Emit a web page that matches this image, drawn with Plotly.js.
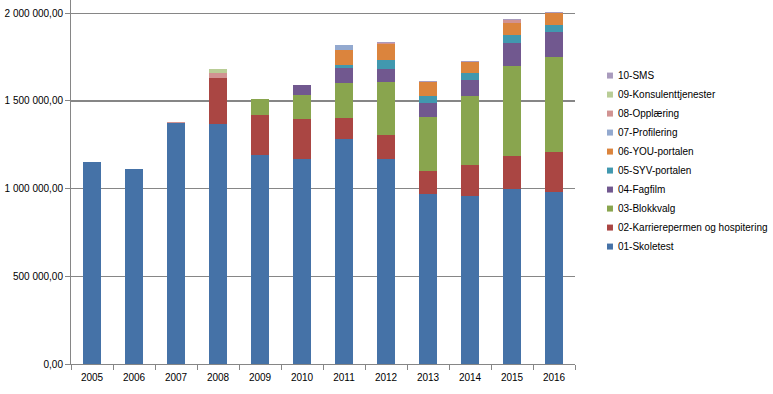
<!DOCTYPE html>
<html>
<head>
<meta charset="utf-8">
<script src="https://cdn.plot.ly/plotly-3.0.1.min.js"></script>
<style>html,body{margin:0;padding:0;background:#fff;}#chart{width:773px;height:394px;}</style>
</head>
<body>
<div id="chart"></div>
<script>
const years = ["2005","2006","2007","2008","2009","2010","2011","2012","2013","2014","2015","2016"];
const seriesNames = ["01-Skoletest","02-Karrierepermen og hospitering","03-Blokkvalg","04-Fagfilm","05-SYV-portalen","06-YOU-portalen","07-Profilering","08-Opplæring","09-Konsulenttjenester","10-SMS"];
const seriesColors = ["#4572A7","#AA4643","#89A54E","#71588F","#4198AF","#DB843D","#93A9CF","#D19392","#B9CD96","#A99BBD"];
const s01 = [1150000,1110000,1375000,1367000,1190000,1172000,1281000,1172000,967000,956000,996000,979000];
const s02 = [0,0,0,263000,229000,223000,120000,132000,132000,177000,188000,228000];
const s03 = [0,0,0,0,91000,138000,201000,303000,308000,394000,515000,543000];
const s04 = [0,0,0,0,0,57000,85000,75000,80000,92000,131000,143000];
const s05 = [0,0,0,0,0,0,17000,51000,40000,40000,46000,40000];
const s06 = [0,0,0,0,0,0,88000,92000,83000,63000,68000,69000];
const s07 = [0,0,0,0,0,0,27000,0,0,0,0,0];
const s08 = [0,0,4000,27000,0,0,0,4000,0,0,17000,0];
const s09 = [0,0,0,25000,0,0,0,0,0,0,0,0];
const s10 = [0,0,0,0,0,0,0,6000,4000,5000,6000,6000];
const allSeries = [s01,s02,s03,s04,s05,s06,s07,s08,s09,s10];
const yTicks = [0,500000,1000000,1500000,2000000];

const traces = allSeries.map((vals, i) => ({
  type: "bar",
  x: years,
  y: vals,
  name: seriesNames[i],
  marker: {color: seriesColors[i], line: {width: 0}},
  hoverinfo: "skip"
}));

const layout = {
  width: 773, height: 394,
  margin: {l: 71, r: 198, t: 0, b: 30, pad: 0},
  barmode: "stack",
  bargap: 0.59,
  separators: ", ",
  paper_bgcolor: "#fff",
  plot_bgcolor: "#fff",
  font: {family: "Liberation Sans, Arial, sans-serif", size: 10, color: "#000"},
  xaxis: {
    type: "category",
    showline: true, linecolor: "#868686", linewidth: 1,
    ticks: "outside", tickson: "boundaries", ticklen: 5, tickcolor: "#868686",
    ticklabelstandoff: 4,
    showgrid: false, zeroline: false,
    tickfont: {size: 10}
  },
  yaxis: {
    range: [0, 2076000],
    tickvals: yTicks,
    tickformat: ",.2f",
    showline: true, linecolor: "#868686", linewidth: 1,
    ticks: "outside", ticklen: 5, tickcolor: "#868686",
    showgrid: true, gridcolor: "#868686", gridwidth: 1.3,
    zeroline: false,
    tickfont: {size: 10}
  },
  legend: {
    xref: "container", yref: "container",
    x: 0.7477, xanchor: "left", y: 0.845, yanchor: "top",
    traceorder: "reversed",
    font: {size: 10},
    itemwidth: 30,
    tracegroupgap: 0
  },
  showlegend: true
};

Plotly.newPlot("chart", traces, layout, {displayModeBar: false, staticPlot: true}).then(gd => {
  gd.querySelectorAll(".legend .legendpoints path").forEach(p => {
    p.setAttribute("d", "M15,3H9V-3H15Z");
  });
});
</script>
</body>
</html>
